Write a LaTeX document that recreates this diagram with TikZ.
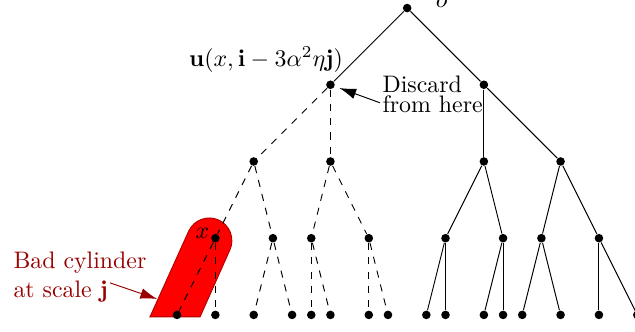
\documentclass[tikz,border=0pt]{standalone}
\usepackage{amsmath,amssymb}
\usetikzlibrary{arrows.meta,positioning,calc}

\begin{document}
\begin{tikzpicture}[
  x=8.04pt, y=8.04pt,
  dot/.style={circle, fill=black, inner sep=0pt, minimum size=3.6pt},
  good/.style={draw},
  cut/.style={draw, dashed},
  arr/.style={draw, -{Latex[length=7pt, width=4.5pt]}}
]
\useasboundingbox (-9.23,-0.886) rectangle (23.88,16.42);

% the bad cylinder, behind the tree
\fill[red, draw=red!70!black] (-1.41,-0.104) -- (0.605,4.36)
  arc[start angle=155.7, end angle=-24.3, radius=1.18]
  -- (1.20,-0.104) -- cycle;

% tree
\node[dot] (root) at (12,16) {};
\node[dot] (a) at (8,12) {};
\node[dot] (b) at (16,12) {};
\node[dot] (aa) at (4,8) {};
\node[dot] (ab) at (8,8) {};
\node[dot] (ba) at (16,8) {};
\node[dot] (bb) at (20,8) {};
\node[dot] (x) at (2,4) {};
\node[dot] (aab) at (5,4) {};
\node[dot] (aba) at (7,4) {};
\node[dot] (abb) at (10,4) {};
\node[dot] (baa) at (14,4) {};
\node[dot] (bab) at (17,4) {};
\node[dot] (bba) at (19,4) {};
\node[dot] (bbb) at (22,4) {};
\node[dot] (l0) at (0,0) {};
\node[dot] (l2) at (2,0) {};
\node[dot] (l4) at (4,0) {};
\node[dot] (l6) at (6,0) {};
\node[dot] (l7) at (7,0) {};
\node[dot] (l8) at (8,0) {};
\node[dot] (l10) at (10,0) {};
\node[dot] (l11) at (11,0) {};
\node[dot] (l13) at (13,0) {};
\node[dot] (l14) at (14,0) {};
\node[dot] (l16) at (16,0) {};
\node[dot] (l17) at (17,0) {};
\node[dot] (l18) at (18,0) {};
\node[dot] (l20) at (20,0) {};
\node[dot] (l22) at (22,0) {};
\node[dot] (l24) at (24,0) {};

\draw[good] (root) -- (a);
\draw[good] (root) -- (b);
\draw[cut] (a) -- (aa);
\draw[cut] (a) -- (ab);
\draw[good] (b) -- (ba);
\draw[good] (b) -- (bb);
\draw[cut] (aa) -- (x);
\draw[cut] (aa) -- (aab);
\draw[cut] (ab) -- (aba);
\draw[cut] (ab) -- (abb);
\draw[good] (ba) -- (baa);
\draw[good] (ba) -- (bab);
\draw[good] (bb) -- (bba);
\draw[good] (bb) -- (bbb);
\draw[cut] (x) -- (l0);
\draw[cut] (x) -- (l2);
\draw[cut] (aab) -- (l4);
\draw[cut] (aab) -- (l6);
\draw[cut] (aba) -- (l7);
\draw[cut] (aba) -- (l8);
\draw[cut] (abb) -- (l10);
\draw[cut] (abb) -- (l11);
\draw[good] (baa) -- (l13);
\draw[good] (baa) -- (l14);
\draw[good] (bab) -- (l16);
\draw[good] (bab) -- (l17);
\draw[good] (bba) -- (l18);
\draw[good] (bba) -- (l20);
\draw[good] (bbb) -- (l22);
\draw[good] (bbb) -- (l24);

% labels
\node[anchor=base] (olab) at (13.8,16.04) {$o$};
\node[anchor=base] (ulab) at (4.64,12.97)
  {$\mathbf{u}(x,\mathbf{i}-3\alpha^2\eta\mathbf{j})$};
\node (xlab) at (1.33,4.25) {$x$};
\node[align=left, anchor=west, inner sep=1pt] (discard) at (10.57,11.5)
  {Discard\\[-3.6pt]from here};
\draw[arr, shorten >=2pt] ([yshift=-3.5pt]discard.west) -- (a);

\node[align=left, anchor=west, inner sep=0pt, text=red!60!black] (badlab)
  at (-8.55,1.98) {Bad cylinder\\at scale $\mathbf{j}$};
\coordinate (badtail) at (-3.49,1.67);
\coordinate (badtip) at (-1.04,0.83);
\draw[arr, red!60!black] (badtail) -- (badtip);
\end{tikzpicture}
\end{document}
